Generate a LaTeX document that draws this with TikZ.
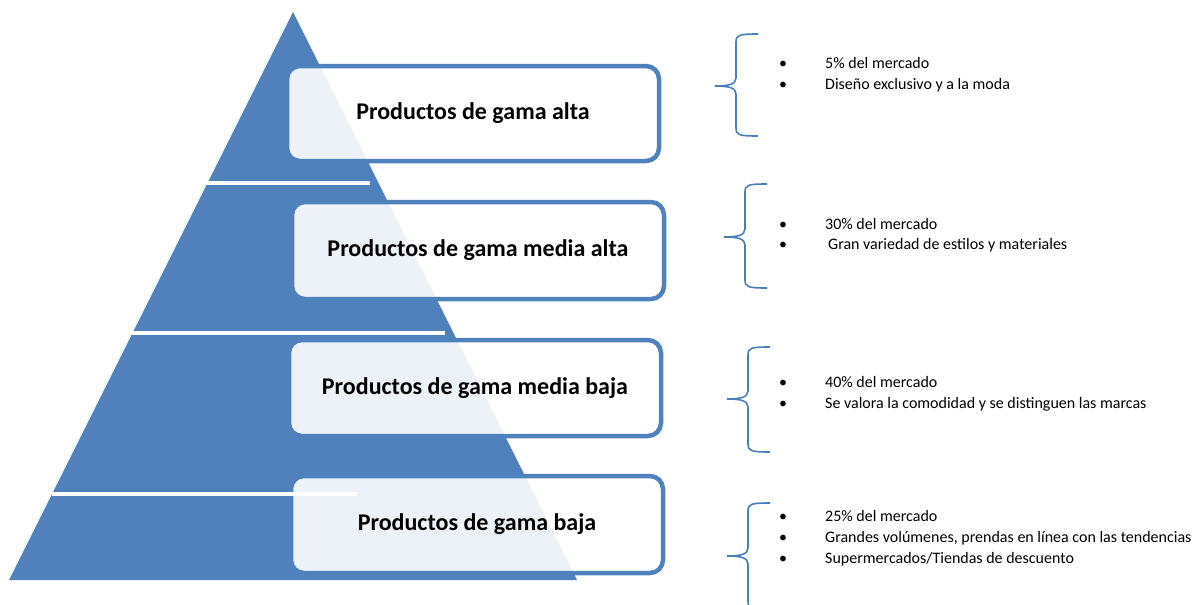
\documentclass[tikz,border=0pt]{standalone}
\usepackage{fontspec}
\setmainfont{Carlito}
\definecolor{pyrblue}{HTML}{4F81BD}
\definecolor{brblue}{HTML}{4A7EBB}
\newcommand\mybrace[4]{% #1 vertical x, #2 top y, #3 tip y, #4 bottom y
  \draw[brace] (#1+22,#2) .. controls (#1+3,#2) and (#1,#2+1) .. (#1,#2+8)
    -- (#1,#3-8) .. controls (#1,#3-1.5) and (#1-8,#3) .. (#1-21,#3)
    .. controls (#1-8,#3) and (#1,#3+1.5) .. (#1,#3+8)
    -- (#1,#4-8) .. controls (#1,#4-1) and (#1+3,#4) .. (#1+22,#4);}
\tikzset{
  box/.style={draw=pyrblue, line width=4.5pt, rounded corners=13pt, fill=white,
    fill opacity=0.9, text opacity=1, minimum width=372pt, inner sep=0pt,
    font=\fontsize{24}{28}\selectfont\bfseries, text=black},
  sep/.style={draw=white, line width=3.5pt},
  brace/.style={draw=brblue, line width=1.6pt},
  item/.style={anchor=base west, inner sep=0pt, font=\fontsize{16}{18}\selectfont, text=black},
  bul/.style={anchor=base, inner sep=0pt, font=\fontsize{16}{18}\selectfont, text=black}
}
\begin{document}
\begin{tikzpicture}[x=1pt,y=-1pt]
\useasboundingbox (0,0) rectangle (1195,605);
% pyramid
\fill[pyrblue] (293,12) -- (577,580) -- (9,580) -- cycle;
% boxes
\node[box, minimum height=95pt] (p1) at (473,113.5) {Productos de gama alta};
\node[box, minimum height=97pt] (p2) at (478,250.5) {Productos de gama media alta};
\node[box, minimum height=96pt] (p3) at (475,388) {Productos de gama media baja};
\node[box, minimum height=97pt] (p4) at (477,524.5) {Productos de gama baja};
% separators
\draw[sep] (207,183) -- (370,183);
\draw[sep] (132,333) -- (445,333);
\draw[sep] (52,494) -- (357,494);
% braces
\begin{scope}
\clip (0,0) rectangle (1195,605);
\mybrace{736}{34}{86}{136}
\mybrace{745}{184}{237}{288}
\mybrace{748}{347}{399}{452}
\mybrace{748}{503}{556}{609}
\end{scope}
% bullet lists
\node[bul] (d11) at (783,68.5) {\textbullet};
\node[item] (t11) at (825,68.5) {5\% del mercado};
\node[bul] (d12) at (783,89.5) {\textbullet};
\node[item] (t12) at (825,89.5) {Diseño exclusivo y a la moda};
\node[bul] (d21) at (783,229.5) {\textbullet};
\node[item] (t21) at (825,229.5) {30\% del mercado};
\node[bul] (d22) at (783,249.5) {\textbullet};
\node[item] (t22) at (828,249.5) {Gran variedad de estilos y materiales};
\node[bul] (d31) at (783,387.5) {\textbullet};
\node[item] (t31) at (825,387.5) {40\% del mercado};
\node[bul] (d32) at (783,408.5) {\textbullet};
\node[item] (t32) at (825,408.5) {Se valora la comodidad y se distinguen las marcas};
\node[bul] (d41) at (783,521.5) {\textbullet};
\node[item] (t41) at (825,521.5) {25\% del mercado};
\node[bul] (d42) at (783,542.5) {\textbullet};
\node[item] (t42) at (825,542.5) {Grandes volúmenes, prendas en línea con las tendencias};
\node[bul] (d43) at (783,563.5) {\textbullet};
\node[item] (t43) at (825,563.5) {Supermercados/Tiendas de descuento};
\end{tikzpicture}
\end{document}
